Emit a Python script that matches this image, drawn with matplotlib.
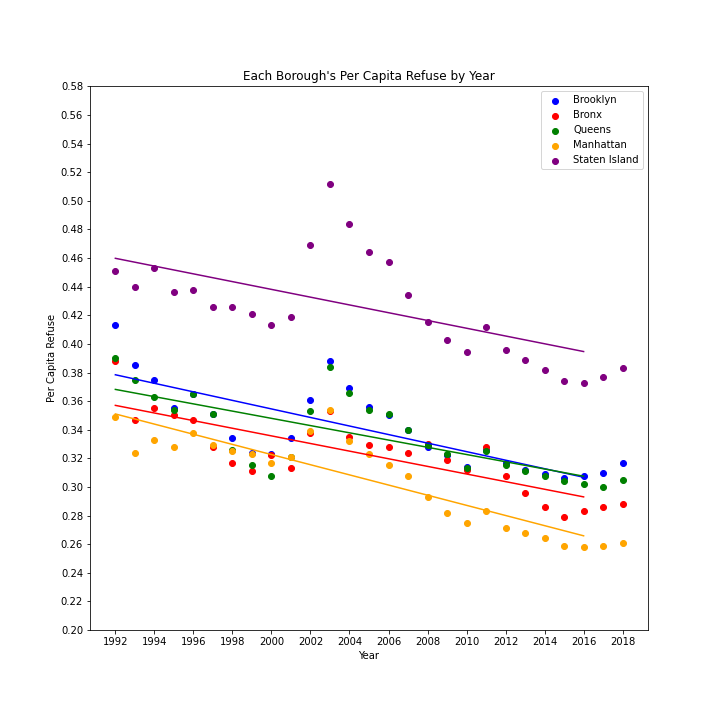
import matplotlib
matplotlib.use("Agg")
import matplotlib.pyplot as plt
import numpy as np

years = list(range(1992, 2019))
brooklyn = [.413,.385,.375,.355,.365,.351,.334,.324,.323,.334,.361,.388,.369,.356,.350,.340,.328,.322,.314,.326,.317,.312,.309,.306,.308,.310,.317]
bronx = [.388,.347,.355,.350,.347,.328,.317,.311,.322,.313,.338,.353,.335,.329,.328,.324,.330,.319,.312,.328,.308,.296,.286,.279,.283,.286,.288]
queens = [.390,.375,.363,.354,.365,.351,.326,.315,.308,.321,.353,.384,.366,.354,.351,.340,.329,.323,.313,.325,.315,.311,.308,.304,.302,.300,.305]
manhattan = [.349,.324,.333,.328,.338,.329,.325,.323,.317,.321,.339,.354,.332,.323,.315,.308,.293,.282,.275,.283,.271,.268,.264,.259,.258,.259,.261]
staten = [.451,.440,.453,.436,.438,.426,.426,.421,.413,.419,.469,.512,.484,.464,.457,.434,.415,.403,.394,.412,.396,.389,.382,.374,.373,.377,.383]

series = [("Brooklyn", brooklyn, "blue"), ("Bronx", bronx, "red"), ("Queens", queens, "green"),
          ("Manhattan", manhattan, "orange"), ("Staten Island", staten, "purple")]

fig, ax = plt.subplots(figsize=(10, 10), dpi=72)
fig.subplots_adjust(left=0.125, right=0.9, top=0.88, bottom=0.125)
x = np.array(years)
fit_mask = x <= 2016
for name, vals, c in series:
    v = np.array(vals)
    ax.scatter(x, v, color=c, label=name, s=36)
    m, b = np.polyfit(x[fit_mask], v[fit_mask], 1)
    xf = x[fit_mask]
    ax.plot(xf, m * xf + b, color=c)

ax.set_ylim(0.20, 0.58)
ax.set_yticks(np.arange(0.20, 0.581, 0.02))
ax.set_xticks(range(1992, 2019, 2))
ax.set_title("Each Borough's Per Capita Refuse by Year")
ax.set_xlabel("Year")
ax.set_ylabel("Per Capita Refuse")
ax.legend(loc="upper right")
fig.savefig("out.png")
